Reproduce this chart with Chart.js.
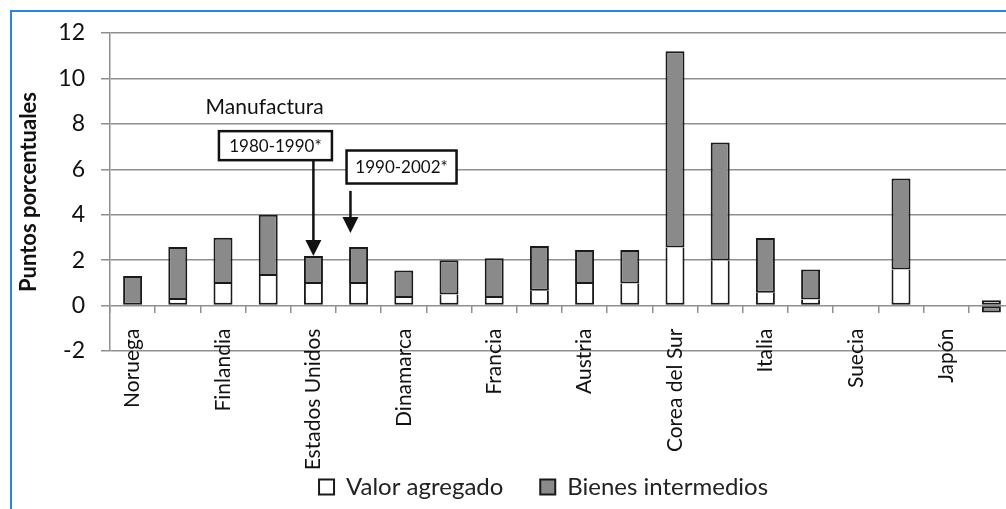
<!DOCTYPE html>
<html lang="es">
<head>
<meta charset="utf-8">
<title>Manufactura - Puntos porcentuales</title>
<script src="https://cdn.jsdelivr.net/npm/chart.js@4.4.1/dist/chart.umd.min.js"></script>
<style>
    html, body { margin: 0; padding: 0; background: #fff; overflow: hidden; }
    .frame {
        position: absolute; left: 10px; top: 10px; width: 1200px; height: 600px;
        border-top: 2px solid #2a86d8; border-left: 2px solid #2a86d8;
    }
    #manufChart { position: absolute; left: 0; top: 0; }
</style>
</head>
<body>
<div class="frame"></div>
<canvas id="manufChart" width="1018" height="509"></canvas>
<script>
// two periods per country: 1980-1990, 1990-2002
const categories = ['Noruega', '', 'Finlandia', '', 'Estados Unidos', '', 'Dinamarca', '', 'Francia', '',
    'Austria', '', 'Corea del Sur', '', 'Italia', '', 'Suecia', '', 'Japón', ''];
const valorAgregado = [0, 0.25, 0.95, 1.3, 0.95, 0.95, 0.33, 0.49, 0.33, 0.65,
    0.95, 0.97, 2.56, 1.98, 0.56, 0.27, null, 1.59, null, 0.23];
const bienesIntermedios = [1.3, 2.33, 2.04, 2.7, 1.23, 1.63, 1.21, 1.5, 1.75, 1.97,
    1.5, 1.48, 8.64, 5.2, 2.42, 1.32, null, 4.0, null, -0.3];
const yTicks = [-2, 0, 2, 4, 6, 8, 10, 12];

const GRID = '#8f8f8f';
const FONT = 'Lato';
Chart.defaults.font.family = FONT;
Chart.defaults.color = '#111';

// annotations anchored on the category / value scales
const notes = {
    title: { text: 'Manufactura', x: 2.92, y: 8.75 },
    boxes: [
        { text: '1980-1990*', x: 3.16, y: 7.04, w: 113, h: 29, arrowX: 4, from: 6.4, to: 2.18 },
        { text: '1990-2002*', x: 5.95, y: 6.1, w: 110, h: 33, arrowX: 4.82, from: 5.05, to: 3.2 }
    ]
};

const annotationPlugin = {
    id: 'notes',
    afterDatasetsDraw(chart) {
        const ctx = chart.ctx;
        const xs = chart.scales.x, ys = chart.scales.y;
        ctx.save();
        ctx.fillStyle = '#111';
        ctx.textAlign = 'center';
        ctx.textBaseline = 'middle';
        ctx.font = '21px ' + FONT;
        ctx.fillText(notes.title.text, xs.getPixelForValue(notes.title.x), ys.getPixelForValue(notes.title.y));

        notes.boxes.forEach(b => {
            const cx = xs.getPixelForValue(b.x), cy = ys.getPixelForValue(b.y);
            ctx.fillStyle = '#fff';
            ctx.fillRect(cx - b.w / 2, cy - b.h / 2, b.w, b.h);
            ctx.strokeStyle = '#111';
            ctx.lineWidth = 2.5;
            ctx.strokeRect(cx - b.w / 2, cy - b.h / 2, b.w, b.h);
            ctx.fillStyle = '#111';
            ctx.font = '17px ' + FONT;
            ctx.fillText(b.text, cx, cy + 1);

            const ax = xs.getPixelForValue(b.arrowX);
            const y0 = ys.getPixelForValue(b.from), y1 = ys.getPixelForValue(b.to);
            ctx.beginPath();
            ctx.moveTo(ax, y0);
            ctx.lineTo(ax, y1 - 12);
            ctx.lineWidth = 2.5;
            ctx.stroke();
            ctx.beginPath();
            ctx.moveTo(ax - 8, y1 - 16);
            ctx.lineTo(ax + 8, y1 - 16);
            ctx.lineTo(ax, y1);
            ctx.closePath();
            ctx.fill();
        });
        ctx.restore();
    }
};

// one border line where the two parts of a bar meet
function skipTopOfValor(c) {
    const other = bienesIntermedios[c.dataIndex];
    return other !== null && other > 0 ? 'end' : false;
}

function noSidePadding(scale) {
    scale.paddingLeft = 0;
    scale.paddingRight = 0;
}

const ctx = document.getElementById('manufChart').getContext('2d');
new Chart(ctx, {
    type: 'bar',
    data: {
        labels: categories,
        datasets: [{
            label: 'Valor agregado',
            data: valorAgregado,
            backgroundColor: '#ffffff',
            borderColor: '#1a1a1a',
            borderWidth: 2,
            borderSkipped: skipTopOfValor,
            barPercentage: 0.42,
            categoryPercentage: 1
        }, {
            label: 'Bienes intermedios',
            data: bienesIntermedios,
            backgroundColor: '#8a8a8a',
            borderColor: '#1a1a1a',
            borderWidth: 2,
            borderSkipped: false,
            barPercentage: 0.42,
            categoryPercentage: 1
        }]
    },
    options: {
        responsive: false,
        animation: false,
        layout: { padding: { top: 33, right: 4, left: 0, bottom: 0 } },
        scales: {
            x: {
                stacked: true,
                position: { y: 0 },
                afterFit: noSidePadding,
                grid: { drawOnChartArea: false, drawTicks: true, tickLength: 7, color: GRID, lineWidth: 1.5 },
                border: { display: false },
                ticks: {
                    autoSkip: false, minRotation: 90, maxRotation: 90, padding: 16,
                    color: '#111', font: { size: 21 }
                }
            },
            gap: {
                type: 'category',
                position: 'bottom',
                labels: categories,
                grid: { display: false },
                border: { display: false },
                ticks: { display: false },
                afterFit(scale) { noSidePadding(scale); scale.height = 124; }
            },
            y: {
                stacked: true,
                min: -2,
                max: 12,
                afterBuildTicks(scale) { scale.ticks = yTicks.map(v => ({ value: v })); },
                afterFit(scale) { scale.width = 110; },
                grid: { color: GRID, lineWidth: 1.5, tickLength: 9 },
                border: { color: GRID, width: 1.5 },
                ticks: { color: '#111', padding: 16, font: { size: 23 } },
                title: {
                    display: true,
                    text: 'Puntos porcentuales',
                    color: '#111',
                    font: { size: 22, weight: 'bold' },
                    padding: { top: 16, bottom: 0 }
                }
            }
        },
        plugins: {
            legend: {
                position: 'bottom',
                fullSize: false,
                labels: {
                    boxWidth: 15, boxHeight: 15, padding: 0, color: '#222', font: { size: 24 },
                    // trailing spaces keep the two entries apart without a tall legend
                    generateLabels(chart) {
                        return Chart.defaults.plugins.legend.labels.generateLabels(chart)
                            .map(item => ({ ...item, text: item.text + '      ' }));
                    }
                }
            },
            tooltip: { enabled: false }
        }
    },
    plugins: [annotationPlugin]
});
</script>
</body>
</html>
